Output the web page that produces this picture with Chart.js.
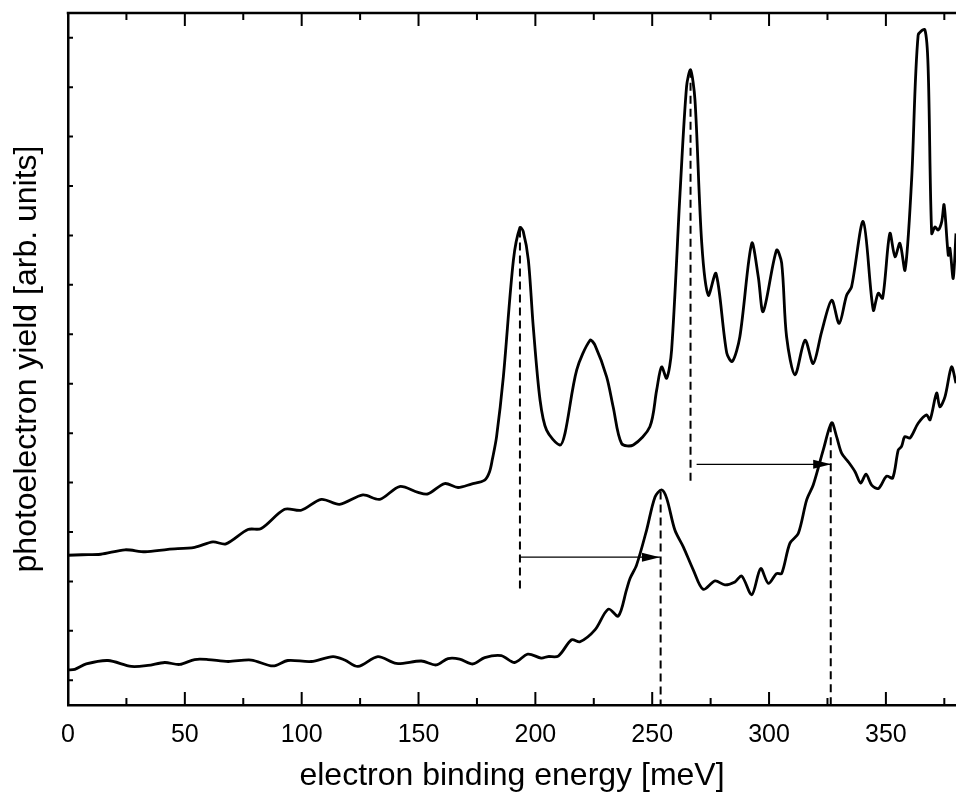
<!DOCTYPE html>
<html>
<head>
<meta charset="utf-8">
<script src="https://cdn.jsdelivr.net/npm/chart.js@4"></script>
<style>
  html, body { margin: 0; padding: 0; background: #fff; }
  #wrap { width: 956px; height: 792px; }
</style>
</head>
<body>
<div id="wrap"><canvas id="chart" width="956" height="792"></canvas></div>
<script>
// spectrum of the upper trace (energy in meV, yield in arb. units)
const upperE = [0, 6, 14, 24.4, 33, 42.8, 54.2, 62, 67.6, 77, 82.7, 92.7, 99.8, 108.4, 116.2,
  126.2, 133.4, 141.9, 149.8, 154, 161.2, 166.9, 172.6, 178.3, 180.4, 181.6, 183.4, 186.3,
  190.6, 193.4, 194.8, 197, 199.1, 202, 204.8, 210.5, 212.7, 217.7, 223.4, 225.5, 230.5,
  233.3, 236.9, 241.9, 249, 251.9, 254, 256.2, 258.3, 261.9, 264.7, 266.4, 268.3, 271.2,
  274, 277.3, 281.9, 284.3, 287.5, 292.6, 295.4, 297.5, 303.2, 305.4, 307.5, 311.1, 315.4,
  318.9, 322.5, 326.8, 330, 333.2, 335.3, 340.3, 344.6, 346.7, 348.6, 351.7, 353.9, 356,
  358.2, 361, 363.8, 366.7, 368.1, 369.6, 371, 372.4, 373.9, 374.9, 376.7, 377.4, 378.8, 380];
const upperY = [3.03, 3.04, 3.05, 3.14, 3.10, 3.15, 3.19, 3.30, 3.26, 3.55, 3.57, 3.96, 3.94, 4.16, 4.06,
  4.25, 4.16, 4.42, 4.30, 4.27, 4.48, 4.40, 4.47, 4.55, 4.72, 4.97, 5.43, 6.64,
  9.00, 9.66, 9.58, 9.00, 7.65, 6.17, 5.56, 5.26, 5.50, 6.78, 7.38, 7.28, 6.64,
  6.03, 5.29, 5.26, 5.63, 6.37, 6.84, 6.61, 7.18, 10.35, 12.51, 12.85, 12.24, 9.34,
  8.29, 8.73, 7.12, 6.95, 7.45, 9.34, 8.66, 7.96, 9.20, 8.94, 7.45, 6.68, 7.38,
  6.91, 7.55, 8.19, 7.72, 8.29, 8.46, 9.78, 7.99, 8.33, 8.23, 9.54, 9.07, 9.34,
  8.80, 10.62, 13.55, 13.66, 12.85, 9.54, 9.67, 9.61, 9.78, 10.12, 9.10, 9.24, 8.63, 9.54];

// spectrum of the lower trace
const lowerE = [0, 2.9, 7.8, 17.1, 27.1, 34.2, 41.4, 47.8, 54.2, 59.9, 68.5, 78.4, 87.7, 94.1,
  104.1, 113.4, 118.4, 124.1, 132.6, 140.5, 151.2, 157.6, 162.6, 167.6, 173.3, 178.3, 185.4,
  191.1, 196.8, 202.5, 205.4, 209.8, 215.5, 219.1, 225.5, 231.2, 235.5, 239, 240.5, 243.3,
  247.6, 251.2, 254, 256.2, 259.7, 263.3, 267.6, 271.8, 276.9, 281.1, 285.4, 288.3, 292.6,
  296.4, 299.7, 303.2, 305.4, 308.9, 312.5, 316.1, 318.9, 323.2, 326.8, 328.9, 331.1, 333.9,
  336.8, 339.2, 341.5, 343.9, 346.8, 350.3, 352.9, 355.3, 356.7, 358.1, 360.3, 363.8, 367.4,
  368.9, 371.7, 373.1, 375.3, 378.1, 380];
const lowerY = [0.71, 0.72, 0.83, 0.90, 0.78, 0.80, 0.86, 0.82, 0.92, 0.92, 0.88, 0.91, 0.79, 0.90,
  0.88, 0.98, 0.91, 0.78, 0.98, 0.84, 0.89, 0.81, 0.94, 0.93, 0.83, 0.96, 1.00,
  0.86, 1.03, 0.95, 0.98, 0.99, 1.32, 1.28, 1.52, 1.94, 1.80, 2.33, 2.56, 2.83,
  3.54, 4.21, 4.35, 4.18, 3.54, 3.20, 2.73, 2.34, 2.51, 2.43, 2.49, 2.61, 2.23,
  2.76, 2.46, 2.66, 2.66, 3.27, 3.47, 4.15, 4.45, 5.16, 5.71, 5.43, 5.09, 4.92,
  4.72, 4.49, 4.67, 4.45, 4.38, 4.63, 4.59, 5.16, 5.23, 5.43, 5.40, 5.70, 5.87,
  5.77, 6.31, 6.03, 6.24, 6.84, 6.51];

// dashed guide lines [x1, y1, x2, y2]
const dashLines = [
  [193.4, 9.62, 193.4, 2.29],
  [253.6, 4.32, 253.6, 0],
  [266.4, 12.85, 266.4, 4.52],
  [326.4, 5.68, 326.4, 0]
];
// shift arrows [x1, y1, x2, y2]
const arrows = [
  [193.4, 2.99, 253.3, 2.99],
  [269.0, 4.87, 326.6, 4.87]
];

const xTickValues = [0, 50, 100, 150, 200, 250, 300, 350];

function pts(xs, ys) {
  return xs.map((v, i) => ({ x: v, y: ys[i] }));
}

const datasets = [
  { data: pts(upperE, upperY), borderColor: '#000', borderWidth: 2.8, tension: 0.3 },
  { data: pts(lowerE, lowerY), borderColor: '#000', borderWidth: 2.8, tension: 0.3 }
];
dashLines.forEach((d) => {
  datasets.push({ data: [{ x: d[0], y: d[1] }, { x: d[2], y: d[3] }],
    borderColor: '#000', borderWidth: 2, borderDash: [8, 5], tension: 0 });
});
arrows.forEach((d) => {
  datasets.push({ data: [{ x: d[0], y: d[1] }, { x: d[2], y: d[3] }],
    borderColor: '#000', borderWidth: 1.2, tension: 0 });
});

const frame = {
  id: 'frame',
  afterDatasetsDraw(chart) {
    const { ctx, chartArea: a, scales: { x, y } } = chart;
    ctx.save();
    ctx.strokeStyle = '#000';
    ctx.fillStyle = '#000';
    ctx.lineWidth = 2;
    ctx.beginPath();
    for (let v = 0; v <= 380; v += 25) {
      const px = x.getPixelForValue(v);
      const len = v % 50 === 0 ? 13 : 7;
      ctx.moveTo(px, a.bottom); ctx.lineTo(px, a.bottom - len);
      ctx.moveTo(px, a.top); ctx.lineTo(px, a.top + len);
    }
    for (let v = 0.5; v < 14; v += 1) {
      const py = y.getPixelForValue(v);
      ctx.moveTo(a.left, py); ctx.lineTo(a.left + 5, py);
    }
    ctx.stroke();
    ctx.lineWidth = 2.5;
    ctx.beginPath();
    ctx.moveTo(a.left - 1.25, a.top);
    ctx.lineTo(a.right, a.top);
    ctx.stroke();
    // arrow heads
    arrows.forEach((d) => {
      const tx = x.getPixelForValue(d[2]);
      const ty = y.getPixelForValue(d[3]);
      ctx.beginPath();
      ctx.moveTo(tx, ty);
      ctx.lineTo(tx - 18, ty - 4.5);
      ctx.lineTo(tx - 18, ty + 4.5);
      ctx.closePath();
      ctx.fill();
    });
    ctx.restore();
  }
};

new Chart(document.getElementById('chart'), {
  type: 'scatter',
  data: { datasets: datasets },
  options: {
    responsive: false,
    animation: false,
    devicePixelRatio: 1,
    showLine: true,
    elements: { point: { radius: 0 } },
    layout: { padding: { top: 13, right: 0, left: 0, bottom: 0 } },
    plugins: { legend: { display: false }, tooltip: { enabled: false } },
    scales: {
      x: {
        type: 'linear',
        min: 0,
        max: 380,
        afterBuildTicks: (s) => { s.ticks = xTickValues.map((v) => ({ value: v })); },
        afterFit: (s) => { s.height = 87; },
        grid: { display: true, drawOnChartArea: false, drawTicks: false },
        border: { display: true, color: '#000', width: 2.5 },
        ticks: {
          color: '#000',
          padding: 15,
          maxRotation: 0,
          font: { family: 'Arial, "Liberation Sans", sans-serif', size: 25 }
        },
        title: {
          display: true,
          text: 'electron binding energy [meV]',
          color: '#000',
          font: { family: 'Arial, "Liberation Sans", sans-serif', size: 32, lineHeight: 1 },
          padding: { top: 0, bottom: 0 }
        }
      },
      y: {
        type: 'linear',
        min: 0,
        max: 14,
        afterFit: (s) => { s.width = 68; },
        grid: { display: true, drawOnChartArea: false, drawTicks: false },
        border: { display: true, color: '#000', width: 2.5 },
        ticks: { display: false },
        title: {
          display: true,
          text: 'photoelectron yield [arb. units]',
          color: '#000',
          font: { family: 'Arial, "Liberation Sans", sans-serif', size: 32, lineHeight: 1.2 },
          padding: { top: 8, bottom: 0 }
        }
      }
    }
  },
  plugins: [frame]
});
</script>
</body>
</html>
